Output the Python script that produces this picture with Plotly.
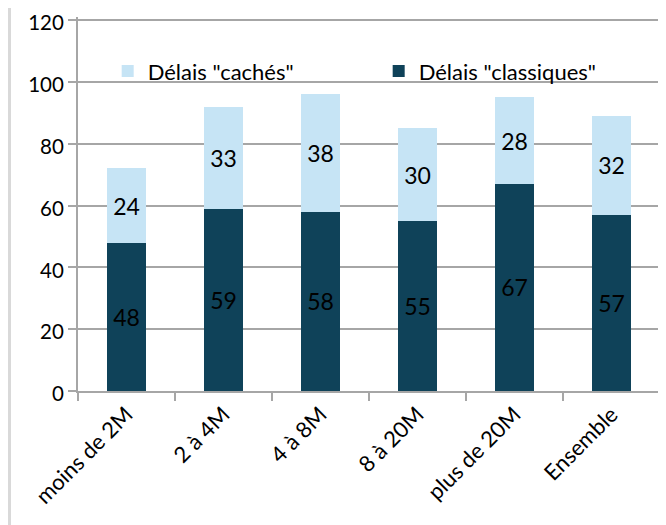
import plotly.graph_objects as go

categories = ["moins de 2M", "2 à 4M", "4 à 8M", "8 à 20M", "plus de 20M", "Ensemble"]
classiques = [48, 59, 58, 55, 67, 57]
caches = [24, 33, 38, 30, 28, 32]
y_ticks = [0, 20, 40, 60, 80, 100, 120]

FONT = "Lato, Open Sans, sans-serif"
DARK = "#0f4259"
LIGHT = "#c6e4f5"
GRID = "#a6a6a6"

fig = go.Figure()
fig.add_trace(go.Bar(
    name='Délais "classiques"', x=categories, y=classiques,
    marker=dict(color=DARK, line=dict(width=0)),
    text=[str(v) for v in classiques], textposition="inside",
    insidetextanchor="middle", textangle=0,
    textfont=dict(color="black", size=23, family=FONT),
))
fig.add_trace(go.Bar(
    name='Délais "cachés"', x=categories, y=caches,
    marker=dict(color=LIGHT, line=dict(width=0)),
    text=[str(v) for v in caches], textposition="inside",
    insidetextanchor="middle", textangle=0,
    textfont=dict(color="black", size=23, family=FONT),
))

# page body has an 8px default margin; size the figure so the plot area lands where the reference has it
fig.update_layout(
    width=658, height=517,
    barmode="stack", bargap=0.6,
    margin=dict(l=70, r=6, t=9, b=134, autoexpand=False),
    paper_bgcolor="white", plot_bgcolor="white",
    font=dict(family=FONT, size=21, color="black"),
    uniformtext=dict(minsize=8, mode="show"),
    legend=dict(
        orientation="h", traceorder="reversed",
        x=0.051, y=0.855, xanchor="left", yanchor="middle",
        entrywidth=226, entrywidthmode="pixels",
        font=dict(size=22, family=FONT, color="black"),
        bgcolor="rgba(0,0,0,0)",
        itemwidth=30,
    ),
    xaxis=dict(
        tickangle=-45, showline=True, linecolor=GRID, linewidth=2,
        ticks="outside", tickson="boundaries", ticklen=8, tickcolor=GRID, tickwidth=2,
        tickfont=dict(size=22, family=FONT), automargin=False,
        ticklabeloverflow="allow",
    ),
    yaxis=dict(
        range=[0, 121], tickvals=y_ticks, showgrid=True, gridcolor=GRID, gridwidth=2,
        showline=True, linecolor=GRID, linewidth=2,
        ticks="outside", ticklen=8, tickcolor=GRID, tickwidth=2,
        tickfont=dict(size=20.5, family=FONT), zeroline=False, automargin=False,
        ticklabeloverflow="allow", ticklabelshift=3,
    ),
    shapes=[dict(type="line", xref="paper", yref="paper",
                 x0=-0.1177, x1=-0.1177, y0=-0.358, y1=1.025,
                 line=dict(color="#d9d9d9", width=3))],
)

fig.write_html("out.html")
